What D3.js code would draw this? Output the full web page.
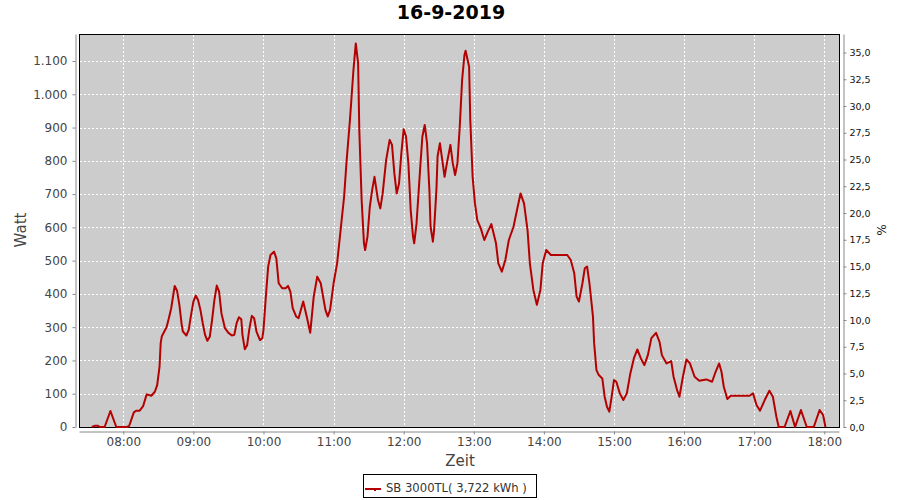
<!DOCTYPE html>
<html><head><meta charset="utf-8">
<script src="https://cdn.jsdelivr.net/npm/d3@7"></script>
<style>
body{margin:0;background:#fff}
svg{display:block}
text{font-family:"DejaVu Sans",sans-serif}
</style>
</head><body>
<svg id="chart" width="900" height="500"></svg>
<script>
const chartTitle = "16-9-2019";
const seriesName = "SB 3000TL( 3,722 kWh )";
const leftLabel = "Watt";
const rightLabel = "%";
const bottomLabel = "Zeit";

const times = ["07:33","07:36","07:38","07:40","07:44","07:49","07:54","08:03","08:05","08:09","08:11","08:14","08:17","08:20","08:24","08:27","08:29","08:31","08:32","08:33","08:37","08:39","08:41","08:43","08:44","08:46","08:48","08:50","08:51","08:54","08:56","08:58","09:00","09:02","09:04","09:06","09:08","09:10","09:12","09:14","09:16","09:18","09:20","09:22","09:24","09:27","09:30","09:33","09:35","09:37","09:39","09:41","09:42","09:44","09:46","09:48","09:50","09:52","09:54","09:57","09:59","10:00","10:02","10:04","10:06","10:09","10:11","10:13","10:16","10:19","10:21","10:23","10:25","10:28","10:30","10:34","10:37","10:40","10:43","10:46","10:49","10:53","10:55","10:57","11:00","11:03","11:06","11:09","11:11","11:14","11:17","11:19","11:21","11:22","11:24","11:26","11:27","11:29","11:31","11:33","11:35","11:38","11:40","11:42","11:45","11:48","11:50","11:52","11:54","11:56","11:58","12:00","12:02","12:04","12:06","12:08","12:09","12:11","12:14","12:16","12:18","12:20","12:22","12:23","12:25","12:26","12:28","12:29","12:31","12:33","12:35","12:37","12:40","12:42","12:44","12:46","12:48","12:50","12:52","12:53","12:56","12:57","12:59","13:01","13:03","13:06","13:09","13:12","13:15","13:19","13:21","13:24","13:27","13:30","13:34","13:37","13:40","13:43","13:46","13:48","13:51","13:54","13:57","13:59","14:02","14:06","14:10","14:20","14:23","14:26","14:28","14:30","14:33","14:35","14:37","14:39","14:42","14:43","14:45","14:47","14:50","14:52","14:54","14:56","14:58","15:00","15:02","15:05","15:08","15:11","15:14","15:17","15:20","15:23","15:26","15:29","15:32","15:36","15:39","15:41","15:45","15:49","15:51","15:54","15:56","15:59","16:02","16:05","16:09","16:13","16:19","16:24","16:27","16:30","16:32","16:34","16:37","16:40","16:44","16:56","16:59","17:02","17:05","17:09","17:13","17:16","17:19","17:21","17:26","17:31","17:35","17:40","17:45","17:51","17:56","17:59","18:01"];
const watts = [0,4,4,0,0,48,0,0,3,44,49,49,63,98,94,106,126,181,252,273,300,327,357,402,424,410,367,307,287,275,292,337,377,395,382,352,312,277,259,271,322,382,425,407,342,297,283,275,277,312,330,324,277,234,246,297,334,327,287,261,267,292,392,482,517,527,507,432,417,417,424,407,357,332,327,377,332,283,392,452,432,352,332,352,432,492,592,692,793,923,1073,1153,1093,893,682,552,532,572,662,712,752,682,657,702,803,863,848,763,702,732,823,895,873,793,652,572,552,612,772,873,908,853,712,602,557,592,712,813,853,803,752,793,848,793,757,793,903,1043,1118,1131,1083,923,752,672,622,597,562,587,610,552,492,467,502,562,602,652,702,672,592,492,412,367,412,492,532,517,517,517,502,462,392,377,432,477,482,432,332,252,171,156,146,91,61,46,91,141,136,101,81,101,161,206,233,206,186,216,267,283,256,216,191,198,151,111,91,151,203,191,151,139,143,136,166,191,166,121,84,94,94,94,101,66,49,81,109,91,31,0,0,48,0,51,0,0,51,36,0];

const wattTicks = [0,100,200,300,400,500,600,700,800,900,1000,1100];
const pctTicks = [0,2.5,5,7.5,10,12.5,15,17.5,20,22.5,25,27.5,30,32.5,35];
const hourTicks = ["08:00","09:00","10:00","11:00","12:00","13:00","14:00","15:00","16:00","17:00","18:00"];
const timeStart = "07:22:05";
const timeEnd = "18:12:36";
const wattMax = 1181.2;
const pctMax = 36.73;

const L = 79, T = 34, W = 760, H = 393;
const svg = d3.select("#chart");
const parseHM = d3.timeParse("%H:%M");
const parseHMS = d3.timeParse("%H:%M:%S");
const de = d3.formatLocale({decimal: ",", thousands: ".", grouping: [3], currency: ["", "€"]});

const data = times.map((t, i) => ({t: parseHM(t), v: watts[i]}));
const x = d3.scaleTime().domain([parseHMS(timeStart), parseHMS(timeEnd)]).range([L, L + W]);
const yL = d3.scaleLinear().domain([0, wattMax]).range([T + H, T]);
const yR = d3.scaleLinear().domain([0, pctMax]).range([T + H, T]);
const hourDates = hourTicks.map(parseHM);

// title
svg.append("text").attr("x", 451).attr("y", 19).attr("text-anchor", "middle")
  .style("font-size", "19px").style("font-weight", "bold").attr("fill", "#000").text(chartTitle);

// plot background
svg.append("rect").attr("x", L + 0.5).attr("y", T + 0.5).attr("width", W).attr("height", H)
  .attr("fill", "#cccccc");

// grid
const grid = svg.append("g").attr("stroke", "#fff").attr("stroke-width", 1).attr("stroke-dasharray", "2,2");
grid.selectAll(".h").data(wattTicks.filter(d => d > 0)).join("line")
  .attr("x1", L + 1).attr("x2", L + W)
  .attr("y1", d => Math.round(yL(d)) + 0.5).attr("y2", d => Math.round(yL(d)) + 0.5);
grid.selectAll(".v").data(hourDates).join("line")
  .attr("y1", T + 1).attr("y2", T + H)
  .attr("x1", d => Math.round(x(d)) + 0.5).attr("x2", d => Math.round(x(d)) + 0.5);

// plot border
svg.append("rect").attr("x", L + 0.5).attr("y", T + 0.5).attr("width", W).attr("height", H)
  .attr("fill", "none").attr("stroke", "#000").attr("stroke-width", 1);

// clip
svg.append("clipPath").attr("id", "clip").append("rect")
  .attr("x", L).attr("y", T).attr("width", W + 1).attr("height", H + 2);

// series line
const line = d3.line().x(d => x(d.t)).y(d => yL(d.v));
svg.append("path").datum(data).attr("clip-path", "url(#clip)")
  .attr("d", line).attr("fill", "none").attr("stroke", "#b40000")
  .attr("stroke-width", 2).attr("stroke-linejoin", "round");

// axes
function styleAxis(g, fs, col) {
  g.select(".domain").attr("stroke", "#888");
  g.selectAll(".tick line").attr("stroke", "#888");
  g.selectAll(".tick text").attr("fill", col).style("font-size", fs).style("font-family", '"DejaVu Sans",sans-serif');
}
const gl = svg.append("g").attr("transform", `translate(${L - 3.5},0)`)
  .call(d3.axisLeft(yL).tickValues(wattTicks).tickSize(3).tickSizeOuter(0).tickPadding(5).tickFormat(de.format(",d")));
styleAxis(gl, "12px", "#444");

const gb = svg.append("g").attr("transform", `translate(0,${T + H + 4.5})`)
  .call(d3.axisBottom(x).tickValues(hourDates).tickSize(3).tickSizeOuter(0).tickPadding(3).tickFormat(d3.timeFormat("%H:%M")));
styleAxis(gb, "12px", "#444");

const gr = svg.append("g").attr("transform", `translate(${L + W + 4.5},0)`)
  .call(d3.axisRight(yR).tickValues(pctTicks).tickSize(3).tickSizeOuter(0).tickPadding(3).tickFormat(de.format(",.1f")));
styleAxis(gr, "9.5px", "#111");

// axis labels
svg.append("text").attr("transform", "translate(26,230) rotate(-90)").attr("text-anchor", "middle")
  .style("font-size", "15px").attr("fill", "#444").text(leftLabel);
svg.append("text").attr("x", 460).attr("y", 466).attr("text-anchor", "middle")
  .style("font-size", "15px").attr("fill", "#444").text(bottomLabel);
svg.append("text").attr("transform", "translate(877,230) rotate(90)").attr("text-anchor", "middle")
  .style("font-size", "12px").attr("fill", "#222").text(rightLabel);

// legend
const lg = svg.append("g");
lg.append("rect").attr("x", 363.5).attr("y", 474.5).attr("width", 173).attr("height", 23)
  .attr("fill", "#fff").attr("stroke", "#000");
lg.append("line").attr("x1", 365).attr("x2", 381).attr("y1", 489).attr("y2", 489)
  .attr("stroke", "#b40000").attr("stroke-width", 2);
lg.append("rect").attr("x", 374).attr("y", 489).attr("width", 2).attr("height", 2).attr("fill", "#b40000");
lg.append("text").attr("x", 386).attr("y", 491.5).style("font-size", "11.6px").attr("fill", "#333").text(seriesName);
</script>
</body></html>
